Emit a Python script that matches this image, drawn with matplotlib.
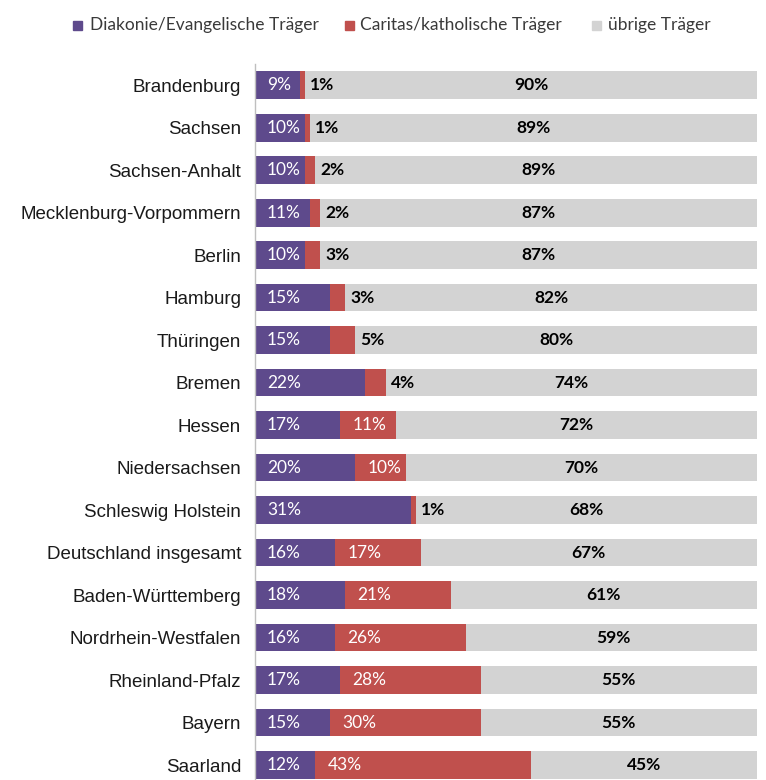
import matplotlib
matplotlib.use("Agg")
import matplotlib.pyplot as plt
from matplotlib.patches import Rectangle

laender = ["Brandenburg", "Sachsen", "Sachsen-Anhalt", "Mecklenburg-Vorpommern",
           "Berlin", "Hamburg", "Thüringen", "Bremen", "Hessen", "Niedersachsen",
           "Schleswig Holstein", "Deutschland insgesamt", "Baden-Württemberg",
           "Nordrhein-Westfalen", "Rheinland-Pfalz", "Bayern", "Saarland"]
diakonie = [9, 10, 10, 11, 10, 15, 15, 22, 17, 20, 31, 16, 18, 16, 17, 15, 12]
caritas = [1, 1, 2, 2, 3, 3, 5, 4, 11, 10, 1, 17, 21, 26, 28, 30, 43]
uebrige = [90, 89, 89, 87, 87, 82, 80, 74, 72, 70, 68, 67, 61, 59, 55, 55, 45]
serien = ["Diakonie/Evangelische Träger", "Caritas/katholische Träger", "übrige Träger"]

c_lila = "#5e4a8c"
c_rot = "#c0504d"
c_grau = "#d3d3d3"

fig = plt.figure(figsize=(7.66, 7.80), dpi=100)
ax = fig.add_axes([0.333, 0.0, 0.655, 0.918])

y = list(range(len(laender)))
h = 0.65
ax.barh(y, diakonie, height=h, color=c_lila)
ax.barh(y, caritas, left=diakonie, height=h, color=c_rot)
left3 = [a + b for a, b in zip(diakonie, caritas)]
ax.barh(y, uebrige, left=left3, height=h, color=c_grau)

lab_font = "Lato"
fs = 12.5
for i in y:
    ax.text(2.4, i, f"{diakonie[i]}%", color="white", va="center", ha="left",
            fontsize=fs, family=lab_font)
    if caritas[i] >= 10:
        ax.text(diakonie[i] + 2.4, i, f"{caritas[i]}%", color="white", va="center",
                ha="left", fontsize=fs, family=lab_font)
    else:
        ax.text(left3[i] + 1.0, i, f"{caritas[i]}%", color="black", va="center",
                ha="left", fontsize=fs, fontweight="bold", family=lab_font)
    ax.text(left3[i] + uebrige[i] / 2, i, f"{uebrige[i]}%", color="black",
            va="center", ha="center", fontsize=fs, fontweight="bold", family=lab_font)

ax.set_xlim(0, 100)
ax.set_ylim(16.35, -0.5)
ax.set_yticks(y)
ax.set_yticklabels(laender, family="Liberation Sans", fontsize=13.5, color="#1a1a1a")
ax.tick_params(axis="y", length=0, pad=10)
ax.set_xticks([])
for s in ["top", "right", "bottom"]:
    ax.spines[s].set_visible(False)
ax.spines["left"].set_color("#bfbfbf")
ax.spines["left"].set_linewidth(1)

# legende oben
leg_items = [(73, 90, c_lila, serien[0]), (345, 360, c_rot, serien[1]),
             (592, 608, c_grau, serien[2])]
W, H = 766.0, 780.0
for xq, xt, col, txt in leg_items:
    fig.patches.append(Rectangle((xq / W, 1 - 30 / H), 9 / W, 9 / H, color=col,
                                 transform=fig.transFigure, figure=fig))
    fig.text(xt / W, 1 - 25 / H, txt, va="center", ha="left", fontsize=12.5,
             color="#3a3a3a", family=lab_font)

fig.savefig("out.png", dpi=100, facecolor="white")
